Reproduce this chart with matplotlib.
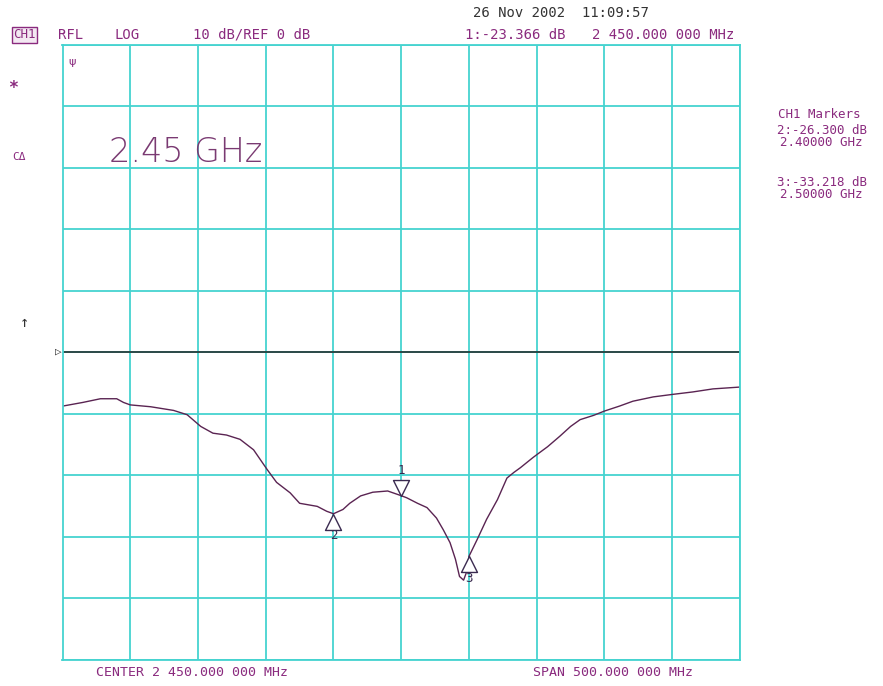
"""
Network analyzer screen: CH1 reflection (log mag) around 2.45 GHz
"""
import matplotlib
matplotlib.use('Agg')
import matplotlib.pyplot as plt
from matplotlib.path import Path

# Trace: frequency (MHz) and return loss (dB)
freq_mhz = [2200, 2215, 2228, 2240, 2245, 2250, 2265, 2282, 2292, 2302,
            2311, 2321, 2331, 2341, 2351, 2358, 2368, 2375, 2388, 2395,
            2400, 2407, 2412, 2420, 2429, 2440, 2450, 2454, 2462, 2469,
            2476, 2481, 2486, 2490, 2493, 2496, 2498, 2500, 2506, 2513,
            2521, 2528, 2533, 2538, 2547, 2550, 2558, 2567, 2575, 2582,
            2592, 2600, 2611, 2621, 2636, 2650, 2665, 2680, 2700]
s11_db = [-8.8, -8.2, -7.6, -7.6, -8.2, -8.6, -8.9, -9.5, -10.2, -12.1,
          -13.2, -13.5, -14.2, -15.9, -19.1, -21.2, -22.9, -24.6, -25.1, -25.9,
          -26.3, -25.6, -24.6, -23.4, -22.8, -22.6, -23.366, -23.7, -24.6, -25.3,
          -27.0, -28.9, -31.0, -33.7, -36.5, -37.1, -35.9, -33.218, -30.5, -27.2,
          -24.0, -20.5, -19.6, -18.8, -17.2, -16.7, -15.4, -13.7, -12.1, -11.0,
          -10.3, -9.6, -8.8, -8.0, -7.3, -6.9, -6.5, -6.0, -5.7]

# Markers
marker_ids = ['1', '2', '3']
marker_freq = [2450, 2400, 2500]
marker_db = [-23.366, -26.300, -33.218]

center_mhz = 2450
span_mhz = 500
ref_db = 0
scale_db = 10

GRID = '#45d3d0'
TRACE = '#5a2452'
TEXT = '#8a2a7e'
DARK = '#333333'
MONO = 'DejaVu Sans Mono'

W, H = 883, 686
fig = plt.figure(figsize=(W / 100, H / 100), dpi=100)
fig.patch.set_facecolor('white')


def px(x, y):
    # pixel position of the screen -> figure fraction
    return x / W, 1 - y / H


ax = fig.add_axes([62.5 / W, 26.5 / H, 677.5 / W, 615 / H])
ax.set_xlim(center_mhz - span_mhz / 2, center_mhz + span_mhz / 2)
ax.set_ylim(ref_db - 5 * scale_db, ref_db + 5 * scale_db)
ax.set_xticks([center_mhz - span_mhz / 2 + i * span_mhz / 10 for i in range(11)])
ax.set_yticks([ref_db - 5 * scale_db + i * scale_db for i in range(11)])
ax.tick_params(length=0, labelbottom=False, labelleft=False)
ax.grid(True, color=GRID, linewidth=1.3)
for sp in ax.spines.values():
    sp.set_color(GRID)
    sp.set_linewidth(1.3)

# reference line and trace
ax.axhline(ref_db, color='#222222', linewidth=1.1)
ax.plot(freq_mhz, s11_db, color=TRACE, linewidth=1.0)

# marker triangles, tip on the trace
tri_down = Path([(0, 0), (-0.5, 1), (0.5, 1), (0, 0)],
                [Path.MOVETO, Path.LINETO, Path.LINETO, Path.CLOSEPOLY])
tri_up = Path([(0, 0), (-0.5, -1), (0.5, -1), (0, 0)],
              [Path.MOVETO, Path.LINETO, Path.LINETO, Path.CLOSEPOLY])
for mid, f, d in zip(marker_ids, marker_freq, marker_db):
    if mid == '1':
        ax.plot([f], [d], marker=tri_down, markersize=23, markerfacecolor='white',
                markeredgecolor='#3a2a50', markeredgewidth=1.0)
        ax.annotate(mid, (f, d), xytext=(0, 18), textcoords='offset points',
                    ha='center', va='center', color='#3a2a50', fontsize=9, family=MONO)
    else:
        ax.plot([f], [d], marker=tri_up, markersize=23, markerfacecolor='white',
                markeredgecolor='#3a2a50', markeredgewidth=1.0)
        ax.annotate(mid, (f, d), xytext=(0, -16), textcoords='offset points',
                    ha='center', va='center', color='#3a2a50', fontsize=9, family=MONO)

# big frequency label inside the grid
ax.text(*px(109, 152), '2.45 GHz', transform=fig.transFigure, color='#7a3a72',
        fontsize=24, fontweight='light', ha='left', va='center')
ax.text(*px(68, 62), 'ψ', transform=fig.transFigure, color=TEXT, fontsize=8,
        ha='left', va='center')

# header
fig.text(*px(13, 35), 'CH1', color=TEXT, fontsize=9, family=MONO, va='center',
         bbox=dict(boxstyle='square,pad=0.1', facecolor='#f3e8f2', edgecolor=TEXT, linewidth=1))
fig.text(*px(58, 35), 'RFL', color=TEXT, fontsize=10, family=MONO, va='center')
fig.text(*px(115, 35), 'LOG', color=TEXT, fontsize=10, family=MONO, va='center')
fig.text(*px(193, 35), f'{scale_db} dB/REF {ref_db} dB', color=TEXT, fontsize=10,
         family=MONO, va='center')
fig.text(*px(473, 13), '26 Nov 2002  11:09:57', color=DARK, fontsize=10, family=MONO,
         va='center')
fig.text(*px(465, 35), f'1:{marker_db[0]:.3f} dB', color=TEXT, fontsize=10, family=MONO,
         va='center')
fig.text(*px(592, 35), '2 450.000 000 MHz', color=TEXT, fontsize=10, family=MONO,
         va='center')

# left side softkey marks
fig.text(*px(13, 88), '*', color=TEXT, fontsize=12, family=MONO, ha='center', va='center',
         fontweight='bold')
fig.text(*px(12, 157), 'CΔ', color=TEXT, fontsize=8, family=MONO, va='center')
fig.text(*px(24, 322), '↑', color=DARK, fontsize=11, family=MONO, ha='center', va='center')
fig.text(*px(58, 352), '▷', color=DARK, fontsize=8, family=MONO, ha='center', va='center')

# marker table on the right
fig.text(*px(778, 114), 'CH1 Markers', color=TEXT, fontsize=9, family=MONO, va='center')
rows = [(marker_ids[1], marker_db[1], marker_freq[1], 131),
        (marker_ids[2], marker_db[2], marker_freq[2], 182)]
for mid, d, f, y in rows:
    fig.text(*px(777, y), f'{mid}:{d:.3f} dB', color=TEXT, fontsize=9, family=MONO,
             va='center')
    fig.text(*px(780, y + 12), f'{f / 1000:.5f} GHz', color=TEXT, fontsize=9, family=MONO,
             va='center')

# footer
fig.text(*px(96, 672), 'CENTER 2 450.000 000 MHz', color=TEXT, fontsize=9.5, family=MONO,
         va='center')
fig.text(*px(533, 672), 'SPAN 500.000 000 MHz', color=TEXT, fontsize=9.5, family=MONO,
         va='center')

fig.savefig('out.png', dpi=100)
